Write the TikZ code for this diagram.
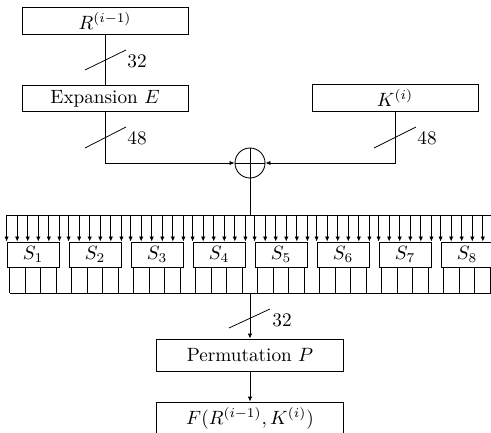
\documentclass[tikz,border=0pt]{standalone}
\usetikzlibrary{arrows.meta,calc}
\begin{document}
\begin{tikzpicture}[x=0.52pt,y=-0.52pt,
  line width=0.45pt,
  wide/.style={draw, minimum width=86.3pt, minimum height=13.8pt, inner sep=0pt},
  pbox/.style={draw, minimum width=97.2pt, minimum height=16.6pt, inner sep=0pt},
  sbox/.style={draw, minimum width=27pt, minimum height=13pt, inner sep=0pt},
  arr/.style={-{Latex[length=2.6pt,width=2.3pt]}},
  slash/.style={line width=0.4pt},
  lbl/.style={anchor=west, inner sep=0pt}]
\path[use as bounding box] (0,0) rectangle (491,433);
\clip (0,0) rectangle (491,433);

% boxes
\node[wide] (R) at (105,21) {$R^{(i-1)}$};
\node[wide] (E) at (105,98.5) {Expansion $E$};
\node[wide] (K) at (395,98) {$K^{(i)}$};
\node[draw, circle, minimum size=15.6pt, inner sep=0pt] (xor) at (250,163) {};
\draw (xor.north) -- (xor.south) (xor.west) -- (xor.east);
\node[pbox] (P) at (250,355) {Permutation $P$};
\node[pbox] (F) at (250,418) {$F(R^{(i-1)},K^{(i)})$};

% connectors
\draw (R) -- (E);
\draw[arr] (E.south) |- (xor.west);
\draw[arr] (K.south) |- (xor.east);

% bit-width marks
\draw[slash] (85,70) -- (126,50);
\node[lbl] (w1) at (127,61) {32};
\draw[slash] (85,148) -- (126,127);
\node[lbl] (w2) at (127,138) {48};
\draw[slash] (374,148) -- (416,127);
\node[lbl] (w3) at (417,138) {48};
\draw[slash] (229,328) -- (270,309);
\node[lbl] (w4) at (272,320) {32};

% buses
\coordinate (busL) at (6,215);
\coordinate (busR) at (520,215);
\coordinate (busin) at (xor |- busL);
\coordinate (outL) at (9.5,293);
\coordinate (outR) at (520,293);
\coordinate (busout) at (xor |- outL);
\draw (busL) -- (busR);
\draw (outL) -- (outR);
\draw (xor.south) -- (busin);
\draw[arr] (busout) -- (P.north);
\draw[arr] (P.south) -- (F.north);

% S-boxes
\foreach \k in {1,...,8} {
  \node[sbox] (S\k) at ({33+62*(\k-1)},254.5) {$S_{\k}$};
  \foreach \j in {0,...,5} {
    \coordinate (t) at ($(S\k.north west)!{\j/5}!(S\k.north east)$);
    \draw[arr] (t |- busL) -- (t);
  }
  \foreach \j in {0,...,3} {
    \coordinate (o) at ($(S\k.south west)!{0.05+0.3*\j}!(S\k.south east)$);
    \draw (o) -- (o |- outL);
  }
}
\end{tikzpicture}
\end{document}
